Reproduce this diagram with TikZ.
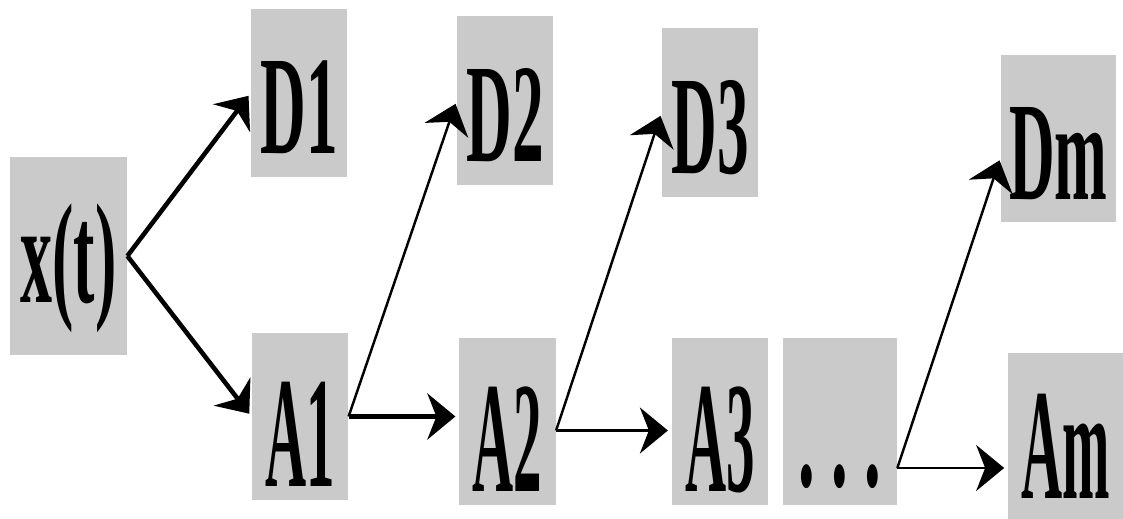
\documentclass[tikz,border=0pt]{standalone}
\usepackage{fontspec}
\usepackage{tikz}
\usetikzlibrary{arrows.meta, positioning}
\newfontfamily\fuenteD{Liberation Serif}[FakeStretch=0.45]
\newfontfamily\fuenteA{Liberation Serif}[FakeStretch=0.36]
\definecolor{grisCaja}{HTML}{CACACA}

\begin{document}
\begin{tikzpicture}[x=0.02cm, y=-0.02cm,
        caja/.style={fill=grisCaja, inner sep=0pt, text depth=0pt, align=center},
        sig/.style={caja, minimum width=2.34cm, minimum height=3.96cm, text height=1.88cm,
            font=\fuenteD\bfseries\fontsize{81}{81}\selectfont},
        det/.style={caja, minimum width=1.92cm, minimum height=3.38cm, text height=2.44cm,
            font=\fuenteD\bfseries\fontsize{80}{80}\selectfont},
        apr/.style={caja, minimum width=1.93cm, minimum height=3.34cm, text height=2.8cm,
            font=\fuenteA\bfseries\fontsize{90}{90}\selectfont},
        rel/.style={-{Stealth[length=0.56cm, width=0.92cm, inset=0.18cm]}, line width=1.4pt, shorten >=2pt},
        relg/.style={rel, line width=2.6pt}
    ]
        \useasboundingbox (0,0) rectangle (1123,519);

        \node[sig] (xt) at (68.5,256) {x(t)};
        \node[det] (D1) at (299,93) {D1};
        \node[apr] (A1) at (300,416.5) {A1};
        \node[det] (D2) at (505,100.5) {D2};
        \node[apr] (A2) at (507.5,421.5) {A2};
        \node[det] (D3) at (710,112.5) {D3};
        \node[apr] (A3) at (720,421.5) {A3};
        \node[apr, minimum width=2.28cm, text height=2.62cm, font=\fuenteD\bfseries\fontsize{84}{84}\selectfont]
            (pts) at (840,421.5) {.\hspace{9.3pt}.\hspace{9.3pt}.};
        \node[det, minimum width=2.3cm, minimum height=3.34cm] (Dm) at (1058.5,138.5) {Dm};
        \node[apr, minimum width=2.3cm, text height=2.5cm] (Am) at (1065.5,436.5) {Am};

        \coordinate (s2) at ([yshift=-0.18cm]A2.east);
        \coordinate (s3) at ([yshift=-0.93cm]pts.east);

        \draw[relg] (xt.east) -- (D1.west);
        \draw[relg] (xt.east) -- (A1.west);
        \draw[relg] (A1.east) -- (A1.east -| A2.west);
        \draw[rel] (A1.east) -- (D2.west);
        \draw[rel] (s2) -- (s2 -| A3.west);
        \draw[rel] (s2) -- (D3.west);
        \draw[rel] (s3) -- (s3 -| Am.west);
        \draw[rel] (s3) -- ([yshift=-0.37cm]Dm.west);
    \end{tikzpicture}
\end{document}
